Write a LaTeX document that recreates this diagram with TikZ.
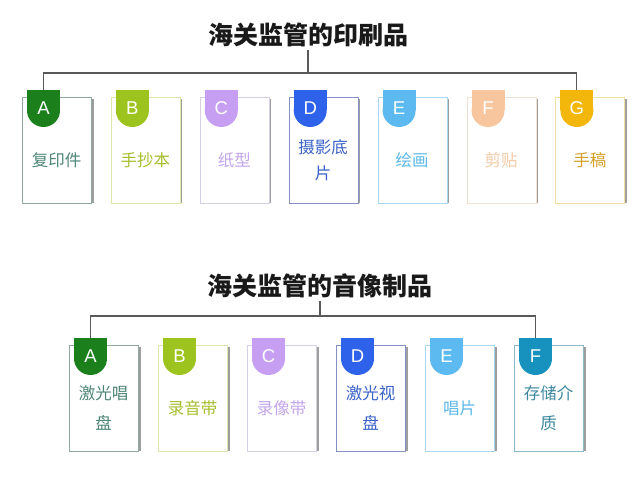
\documentclass[tikz,border=0pt]{standalone}
\usepackage{fontspec}
\setmainfont{Liberation Sans}
\newfontfamily\cjk{Noto Sans CJK SC}
\definecolor{tabA}{HTML}{1B801C}\definecolor{txA}{HTML}{4E8678}\definecolor{bdA}{HTML}{8FA8A2}
\definecolor{tabB}{HTML}{9DC41E}\definecolor{txB}{HTML}{A6BE2E}\definecolor{bdB}{HTML}{DDE8A8}
\definecolor{tabC}{HTML}{C79FF2}\definecolor{txC}{HTML}{C4A6EA}\definecolor{bdC}{HTML}{D6CFE6}
\definecolor{tabD}{HTML}{2E62EA}\definecolor{txD}{HTML}{3A62C8}\definecolor{bdD}{HTML}{8491C2}
\definecolor{tabE}{HTML}{5CBAF0}\definecolor{txE}{HTML}{5CB8E8}\definecolor{bdE}{HTML}{A8D8F0}
\definecolor{tabF}{HTML}{F7C69E}\definecolor{txF}{HTML}{F5CAA6}\definecolor{bdF}{HTML}{EEE0D2}
\definecolor{tabG}{HTML}{F2B70A}\definecolor{txG}{HTML}{D4A02A}\definecolor{bdG}{HTML}{F2DFA2}
\definecolor{tabT}{HTML}{1791BD}\definecolor{txT}{HTML}{3E88A0}\definecolor{bdT}{HTML}{8CB8C8}
\tikzset{
  conn/.style={draw=black!65, line width=1.1pt},
  cardbox/.style={draw, fill=white, line width=0.8pt, minimum width=69pt, minimum height=106pt, inner sep=0pt},
  letter/.style={text=white, font=\fontsize{18.5}{20}\selectfont, inner sep=0pt},
  cardtexttop/.style={font=\cjk\fontsize{16.5}{26.5}\selectfont, align=center, inner sep=0pt},
  cardtextbot/.style={font=\cjk\fontsize{16.5}{30}\selectfont, align=center, inner sep=0pt},
  titletext/.style={font=\cjk\bfseries\fontsize{25}{28}\selectfont, text=black!90, inner sep=3pt},
  cardshadow/.style={fill=black!38},
}
% #1 name, #2 left x, #3 card top y, #4 letter, #5 tab colour, #6 text colour, #7 border colour, #8 text, #9 text style
\newcommand\mkcard[9]{%
  \fill[cardshadow] ({#2+69},{#3-2}) rectangle ({#2+71.5},{#3-106.5});
  \node[cardbox, draw=#7, anchor=north west] (#1) at (#2,#3) {};
  \fill[#5] ({#2+5},{#3+7}) rectangle ({#2+38},{#3-13.5});
  \fill[#5] ({#2+21.5},{#3-13.5}) circle[radius=16.5];
  \coordinate (#1tab) at ({#2+21.5},{#3+7});
  \node[letter] (#1let) at ({#2+21.5},{#3-11.5}) {#4};
  \node[#9, text=#6] (#1txt) at ({#2+34.5},{#3-63}) {#8};
}
\begin{document}
\begin{tikzpicture}[x=1pt,y=1pt]
\useasboundingbox[fill=white] (0,0) rectangle (640,486);
% top group
\node[titletext] (t1) at (308,451) {海关监管的印刷品};
\mkcard{a1}{22}{389}{A}{tabA}{txA}{bdA}{复印件}{cardtexttop}
\mkcard{b1}{110.9}{389}{B}{tabB}{txB}{bdB}{手抄本}{cardtexttop}
\mkcard{c1}{199.8}{389}{C}{tabC}{txC}{bdC}{纸型}{cardtexttop}
\mkcard{d1}{288.7}{389}{D}{tabD}{txD}{bdD}{摄影底\\片}{cardtexttop}
\mkcard{e1}{377.6}{389}{E}{tabE}{txE}{bdE}{绘画}{cardtexttop}
\mkcard{f1}{466.5}{389}{F}{tabF}{txF}{bdF}{剪贴}{cardtexttop}
\mkcard{g1}{555.4}{389}{G}{tabG}{txG}{bdG}{手稿}{cardtexttop}
\coordinate (j1) at (t1.south |- 0,413);
\draw[conn] (t1.south) -- (j1);
\draw[conn] (a1tab) -- (a1tab |- j1) -- (g1tab |- j1) -- (g1tab);
% bottom group
\node[titletext] (t2) at (320,200) {海关监管的音像制品};
\mkcard{a2}{69}{141}{A}{tabA}{txA}{bdA}{激光唱\\盘}{cardtextbot}
\mkcard{b2}{158}{141}{B}{tabB}{txB}{bdB}{录音带}{cardtextbot}
\mkcard{c2}{247}{141}{C}{tabC}{txC}{bdC}{录像带}{cardtextbot}
\mkcard{d2}{336}{141}{D}{tabD}{txD}{bdD}{激光视\\盘}{cardtextbot}
\mkcard{e2}{425}{141}{E}{tabE}{txE}{bdE}{唱片}{cardtextbot}
\mkcard{f2}{514}{141}{F}{tabT}{txT}{bdT}{存储介\\质}{cardtextbot}
\coordinate (j2) at (t2.south |- 0,170);
\draw[conn] (t2.south) -- (j2);
\draw[conn] (a2tab) -- (a2tab |- j2) -- (f2tab |- j2) -- (f2tab);
\end{tikzpicture}
\end{document}
